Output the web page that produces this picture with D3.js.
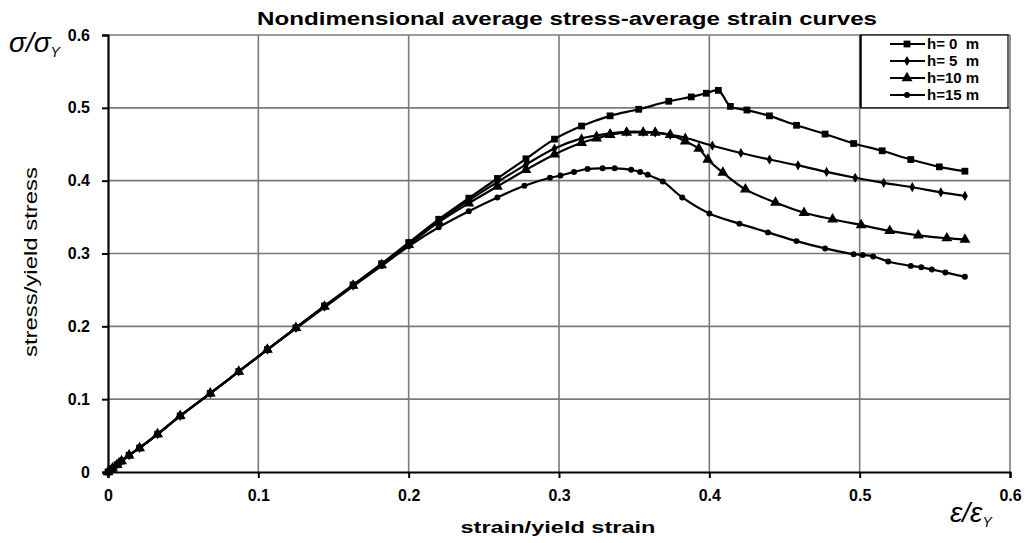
<!DOCTYPE html>
<html>
<head>
<meta charset="utf-8">
<script src="https://cdn.jsdelivr.net/npm/d3@7"></script>
<style>
  body { margin: 0; background: #fff; }
  text { font-family: Arial, "Liberation Sans", sans-serif; }
</style>
</head>
<body>
<div id="chart"></div>
<script>
var WIDTH = 1027, HEIGHT = 543;

// data (strain/yield strain, stress/yield stress)
var x_h0 = [0, 0.003, 0.006, 0.009, 0.014, 0.021, 0.033, 0.048, 0.068, 0.087, 0.106, 0.125, 0.144, 0.163, 0.182, 0.2, 0.22, 0.24, 0.259, 0.278, 0.297, 0.315, 0.334, 0.353, 0.373, 0.388, 0.398, 0.406, 0.414, 0.425, 0.44, 0.458, 0.477, 0.496, 0.515, 0.534, 0.553, 0.57];
var y_h0 = [0, 0.005, 0.01, 0.015, 0.023, 0.033, 0.052, 0.077, 0.108, 0.138, 0.168, 0.198, 0.228, 0.257, 0.286, 0.315, 0.347, 0.376, 0.403, 0.43, 0.457, 0.475, 0.489, 0.498, 0.509, 0.515, 0.52, 0.524, 0.502, 0.497, 0.489, 0.476, 0.464, 0.451, 0.441, 0.429, 0.419, 0.413];

var x_h5 = [0, 0.003, 0.006, 0.009, 0.014, 0.021, 0.033, 0.048, 0.068, 0.087, 0.106, 0.125, 0.144, 0.163, 0.182, 0.2, 0.22, 0.24, 0.259, 0.278, 0.297, 0.315, 0.325, 0.334, 0.345, 0.356, 0.364, 0.374, 0.384, 0.402, 0.421, 0.44, 0.459, 0.478, 0.497, 0.516, 0.535, 0.554, 0.57];
var y_h5 = [0, 0.005, 0.01, 0.015, 0.023, 0.033, 0.052, 0.077, 0.108, 0.138, 0.168, 0.198, 0.227, 0.256, 0.285, 0.313, 0.345, 0.373, 0.398, 0.422, 0.444, 0.458, 0.462, 0.465, 0.467, 0.467, 0.466, 0.463, 0.459, 0.448, 0.438, 0.429, 0.421, 0.412, 0.404, 0.397, 0.391, 0.384, 0.379];

var x_h10 = [0, 0.003, 0.006, 0.009, 0.014, 0.021, 0.033, 0.048, 0.068, 0.087, 0.106, 0.125, 0.144, 0.163, 0.182, 0.2, 0.22, 0.24, 0.259, 0.278, 0.297, 0.315, 0.325, 0.334, 0.345, 0.356, 0.364, 0.374, 0.384, 0.393, 0.399, 0.409, 0.424, 0.444, 0.463, 0.482, 0.501, 0.52, 0.539, 0.558, 0.57];
var y_h10 = [0, 0.005, 0.01, 0.015, 0.023, 0.033, 0.052, 0.077, 0.108, 0.138, 0.168, 0.198, 0.227, 0.256, 0.284, 0.312, 0.343, 0.369, 0.392, 0.415, 0.436, 0.452, 0.458, 0.463, 0.466, 0.466, 0.466, 0.463, 0.454, 0.444, 0.429, 0.411, 0.388, 0.37, 0.356, 0.347, 0.339, 0.331, 0.325, 0.321, 0.319];

var x_h15 = [0, 0.003, 0.006, 0.009, 0.014, 0.021, 0.033, 0.048, 0.068, 0.087, 0.106, 0.125, 0.144, 0.163, 0.182, 0.2, 0.22, 0.24, 0.259, 0.277, 0.294, 0.301, 0.31, 0.319, 0.329, 0.337, 0.348, 0.354, 0.359, 0.369, 0.382, 0.4, 0.42, 0.439, 0.458, 0.477, 0.496, 0.502, 0.509, 0.519, 0.534, 0.541, 0.548, 0.557, 0.57];
var y_h15 = [0, 0.005, 0.01, 0.015, 0.023, 0.033, 0.052, 0.077, 0.108, 0.138, 0.168, 0.197, 0.226, 0.255, 0.283, 0.31, 0.336, 0.358, 0.377, 0.393, 0.404, 0.407, 0.412, 0.416, 0.417, 0.417, 0.415, 0.412, 0.408, 0.399, 0.377, 0.355, 0.341, 0.329, 0.317, 0.307, 0.299, 0.298, 0.296, 0.289, 0.283, 0.281, 0.278, 0.274, 0.268];

var series_names = ["h= 0  m", "h= 5  m", "h=10 m", "h=15 m"];
var x_ticks = [0, 0.1, 0.2, 0.3, 0.4, 0.5, 0.6];
var y_ticks = [0, 0.1, 0.2, 0.3, 0.4, 0.5, 0.6];

var series = [
  {name: series_names[0], xs: x_h0, ys: y_h0, shape: d3.symbolSquare, size: 46},
  {name: series_names[1], xs: x_h5, ys: y_h5, shape: d3.symbolDiamond, size: 30},
  {name: series_names[2], xs: x_h10, ys: y_h10, shape: d3.symbolTriangle, size: 52},
  {name: series_names[3], xs: x_h15, ys: y_h15, shape: d3.symbolCircle, size: 28}
];

var LEFT = 108, RIGHT = 1010, TOP = 35, BOTTOM = 472;

const svg = d3.select("#chart").append("svg").attr("width", WIDTH).attr("height", HEIGHT)

const x_scale = d3.scaleLinear().domain([0, 0.6]).range([LEFT, RIGHT])
const y_scale = d3.scaleLinear().domain([0, 0.6]).range([BOTTOM, TOP])

// grid
svg.append("g").selectAll("line").data(x_ticks.slice(1)).enter().append("line")
  .attr("x1", d => x_scale(d)).attr("x2", d => x_scale(d)).attr("y1", TOP).attr("y2", BOTTOM)
  .attr("stroke", "#7a7a7a").attr("stroke-width", 1.6)
svg.append("g").selectAll("line").data(y_ticks.slice(1)).enter().append("line")
  .attr("x1", LEFT).attr("x2", RIGHT).attr("y1", d => y_scale(d)).attr("y2", d => y_scale(d))
  .attr("stroke", "#7a7a7a").attr("stroke-width", 1.6)

// axes
const fmt = d => d === 0 ? "0" : d3.format(".1f")(d)
const gen_x = d3.axisBottom(x_scale).tickValues(x_ticks).tickFormat(fmt).tickSize(6).tickPadding(12)
const gx = svg.append("g").attr("transform", "translate(0," + BOTTOM + ")").call(gen_x)
const gen_y = d3.axisLeft(y_scale).tickValues(y_ticks).tickFormat(fmt).tickSize(6).tickPadding(12)
const gy = svg.append("g").attr("transform", "translate(" + LEFT + ",0)").call(gen_y)
;[gx, gy].forEach(g => {
  g.select(".domain").attr("stroke", "#000").attr("stroke-width", 2.2)
  g.selectAll(".tick line").attr("stroke", "#000").attr("stroke-width", 2)
  g.selectAll(".tick text").attr("font-family", "Arial, sans-serif").attr("font-size", 16).attr("font-weight", "bold").attr("fill", "#000")
})

// legend box
const lg = svg.append("g")
lg.append("rect").attr("x", x_scale(0.5) + 1).attr("y", y_scale(0.6)).attr("width", x_scale(0.6) - x_scale(0.5) - 3).attr("height", y_scale(0.5) - y_scale(0.6))
  .attr("fill", "#fff").attr("stroke", "#000").attr("stroke-width", 1.2)
lg.append("line").attr("x1", x_scale(0.5) + 1).attr("x2", x_scale(0.5) + 1).attr("y1", y_scale(0.6)).attr("y2", y_scale(0.5))
  .attr("stroke", "#000").attr("stroke-width", 2)

// curves
const line = d3.line().x(d => x_scale(d[0])).y(d => y_scale(d[1])).curve(d3.curveCatmullRom.alpha(0.5))
series.forEach(s => {
  const pts = s.xs.map((x, i) => [x, s.ys[i]])
  svg.append("path").datum(pts).attr("d", line).attr("fill", "none").attr("stroke", "#000").attr("stroke-width", 2.2)
  svg.append("g").selectAll("path").data(pts).enter().append("path")
    .attr("d", d3.symbol().type(s.shape).size(s.size))
    .attr("transform", d => "translate(" + x_scale(d[0]) + "," + y_scale(d[1]) + ")")
    .attr("fill", "#000")
})

// legend rows
series.forEach((s, i) => {
  const yy = 44 + i * 17
  const row = lg.append("g").attr("transform", "translate(890," + yy + ")")
  row.append("line").attr("x1", 0).attr("x2", 35).attr("stroke", "#000").attr("stroke-width", 2.2)
  row.append("path").attr("d", d3.symbol().type(s.shape).size(s.size)).attr("transform", "translate(17,0)").attr("fill", "#000")
  row.append("text").attr("x", 37).attr("y", 5).attr("font-family", "'Liberation Serif', 'Times New Roman', serif")
    .attr("font-size", 15).attr("font-weight", "bold").style("white-space", "pre").text(s.name)
})

// titles
svg.append("text").attr("x", 567).attr("y", 25).attr("text-anchor", "middle").attr("font-size", 19).attr("font-weight", "bold")
  .attr("textLength", 620).attr("lengthAdjust", "spacingAndGlyphs")
  .text("Nondimensional average stress-average strain curves")
svg.append("text").attr("x", 558).attr("y", 533).attr("text-anchor", "middle").attr("font-size", 17).attr("font-weight", "bold")
  .attr("textLength", 195).attr("lengthAdjust", "spacingAndGlyphs")
  .text("strain/yield strain")
svg.append("text").attr("transform", "translate(37," + 262 + ") rotate(-90)").attr("text-anchor", "middle").attr("font-size", 18)
  .attr("textLength", 190).attr("lengthAdjust", "spacingAndGlyphs")
  .text("stress/yield stress")

// symbol labels
const sy = svg.append("text").attr("x", 9).attr("y", 52).attr("font-family", "'Liberation Serif', 'Times New Roman', serif").attr("font-style", "italic").attr("font-size", 28)
sy.append("tspan").text("σ/σ")
sy.append("tspan").attr("font-size", 14).attr("dy", 5).text("Y")
const ey = svg.append("text").attr("x", 950).attr("y", 522).attr("font-family", "'Liberation Serif', 'Times New Roman', serif").attr("font-style", "italic").attr("font-size", 28)
ey.append("tspan").text("ε/ε")
ey.append("tspan").attr("font-size", 14).attr("dy", 5).text("Y")
</script>
</body>
</html>
